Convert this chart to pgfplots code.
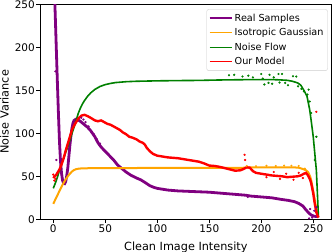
\documentclass[border=0pt]{standalone}
\usepackage{pgfplots}
\pgfplotsset{compat=1.18}
\usepackage{fontspec}
\setmainfont{DejaVu Sans}
\definecolor{mpurple}{HTML}{800080}
\definecolor{morange}{HTML}{FFA500}
\definecolor{mgreen}{HTML}{008000}
\definecolor{mred}{HTML}{FF0000}

\pgfplotstableread{
x y
0 310
1 272
2 234
3 196
4 158
5 122
6 90
7 67
8 53
9 45
10 42
11 41.5
12 44
13 51
14 60
15 73
16 86
17 97
18 106
19 112
20 115
22 116.5
24 115.5
26 114
28 112
30 110
33 107
36 103
40 96
43 89
46 84
50 79
54 74
58 69
62 63
66 59
70 55
75 51
80 48
84 46
88 43
93 39
97 37
100 36
105 35
110 34
120 33
130 32.5
140 32
150 31.5
160 30.5
170 29.5
180 28.5
185 28
190 27
200 26
210 25
215 24
220 23
226 22
232 20.5
236 18.5
240 15.5
243 11
246 7
248 5
251 3.5
255 3
}\realline

\pgfplotstableread{
x y
2 172
3 69
27 118
29 116
31 113
34 108
37 101
39 99
42 93
45 88
47 83
187 26
246 1
247 12
249 2
251 10
253 14
}\realdots

\pgfplotstableread{
x y
0 18
2 23
4 28
6 33
8 38
10 42.5
12 46.5
14 50
16 53
18 55.5
20 57.3
22 58.3
25 59
30 59.3
40 59.5
60 59.6
100 59.7
150 59.7
170 59.8
180 59.8
190 60.3
200 60.4
210 60.5
220 60.5
230 60.5
236 60
240 58.5
243 57
245 55
247 50
248 45.6
250 33
251.5 22
253 12
254 6
255 2.7
}\isoline

\pgfplotstableread{
x y
186 62
195 61.8
205 62.3
214 62
222 62.5
229 62.3
236 62
242 59
}\isodots

\pgfplotstableread{
x y
0 36
2 42
4 49
6 57
8 64
10 71
12 78
14 84.5
16 92
18 100
20 107
22 115
24 123
26 129
28 134
30 138
33 143
36 147
40 151
45 154.5
50 156.6
55 158
60 159
70 160
80 160.5
100 161
120 161.3
140 161.5
160 162
180 162.3
200 162.5
215 162.3
225 161.6
230 160.5
235 158.6
238 156
241 150
244 143
246.5 128
248 115
250 96
252 70
253 57
254 30
255 3
}\nfline

\pgfplotstableread{
x y
169 167.5
174 168
182 166
187.6 167
192 165
200 169
201.5 163.6
208 168
212 165
216.6 169
220 169
203 156.8
207 158.6
210.5 157.6
217.6 159
223 158.6
225.7 155.9
230.5 166.3
233.7 166
235.4 154.6
238.6 151.6
241 148.8
244.4 145
245.6 150.8
246.6 137
248 123.5
251.5 69
253 96
}\nfdots

\pgfplotstableread{
x y
0 48
3 52
6 58
8 64
10 71
12 80
14 88
16 96
18 104
20 109
22 113
24 117
27 120.5
30 121.5
33 120
36 118
40 115
43 114
46 115
49 113
52 111
55 110
58 108
61 106
64 104
67 101
70 99
73 96
76 95
80 93
83 90.5
86 89
88 87
90 83
93 79
96 76
100 74
105 73
110 72
115 71.5
120 71
125 70
130 69
135 68
140 67
145 65
150 62.5
155 62
160 61
165 59.5
170 58
175 56.5
180 57
183 58.5
186 60.5
189 60
192 56
195 54
200 53
205 52
210 51
215 50.5
220 50
225 49
230 49.5
235 50
238 51
241 53
243 54
245 51
247 46
248 42
250 30
251.5 18
253 8
255 2
}\ourline

\pgfplotstableread{
x y
0 52
1 45
2 47
184 75
184.5 69
205 49
212 55
218 47
224 53
231 46
236 54
240 48
253 125
}\ourdots

\begin{document}
\begin{tikzpicture}
\path[use as bounding box] (-40bp,-32.7bp) rectangle (293bp,219.3bp);
\begin{axis}[
  scale only axis,
  width=291.7bp, height=215bp,
  xmin=-12.75, xmax=267.75,
  ymin=0, ymax=250,
  xtick={0,50,...,250}, ytick={0,50,...,250},
  tick align=outside,
  major tick length=3.5bp,
  every tick/.style={black, line width=0.6bp},
  axis line style={black, line width=0.6bp},
  xtick pos=bottom, ytick pos=left,
  /pgf/number format/assume math mode=true,
  tick label style={font=\fontsize{10.5}{12}\selectfont},
  yticklabel style={anchor=east, inner sep=0pt, xshift=-1.5bp},
  xticklabel style={anchor=north, inner sep=0pt, yshift=-1.5bp},
  xlabel={Clean Image Intensity},
  ylabel={Noise Variance},
  label style={font=\fontsize{11.3}{13}\selectfont},
  xlabel style={at={(axis description cs:0.5,0)}, anchor=base, yshift=-30.7bp},
  ylabel style={at={([xshift=-35.5bp]axis description cs:0,0.5)}, anchor=center},
  legend style={at={(rel axis cs:1,1)}, anchor=north east, xshift=-4bp, yshift=-5bp,
    draw=black!20, rounded corners=2bp, fill=white,
    font=\fontsize{9.7}{11}\selectfont, inner xsep=2bp, inner ysep=2.5bp, row sep=1.6bp},
  legend cell align=left,
]
\addplot[mpurple, line width=2.8bp, forget plot] table {\realline};
\addplot[mpurple, only marks, mark=*, mark size=0.9bp, forget plot] table {\realdots};
\addplot[morange, line width=2bp, forget plot] table {\isoline};
\addplot[morange, only marks, mark=*, mark size=0.8bp, forget plot] table {\isodots};
\addplot[mgreen, line width=1.6bp, forget plot] table {\nfline};
\addplot[mgreen, only marks, mark=*, mark size=0.9bp, forget plot] table {\nfdots};
\addplot[mred, line width=2.4bp, forget plot] table {\ourline};
\addplot[mred, only marks, mark=*, mark size=0.9bp, forget plot] table {\ourdots};
\addlegendimage{legend image code/.code={\draw[mpurple, line width=2bp] (0bp,0bp) -- (22bp,0bp);}}
\addlegendentry{Real Samples}
\addlegendimage{legend image code/.code={\draw[morange, line width=1.2bp] (0bp,0bp) -- (22bp,0bp);}}
\addlegendentry{Isotropic Gaussian}
\addlegendimage{legend image code/.code={\draw[mgreen, line width=1.2bp] (0bp,0bp) -- (22bp,0bp);}}
\addlegendentry{Noise Flow}
\addlegendimage{legend image code/.code={\draw[mred, line width=1.2bp] (0bp,0bp) -- (22bp,0bp);}}
\addlegendentry{Our Model}
\end{axis}
\end{tikzpicture}
\end{document}
